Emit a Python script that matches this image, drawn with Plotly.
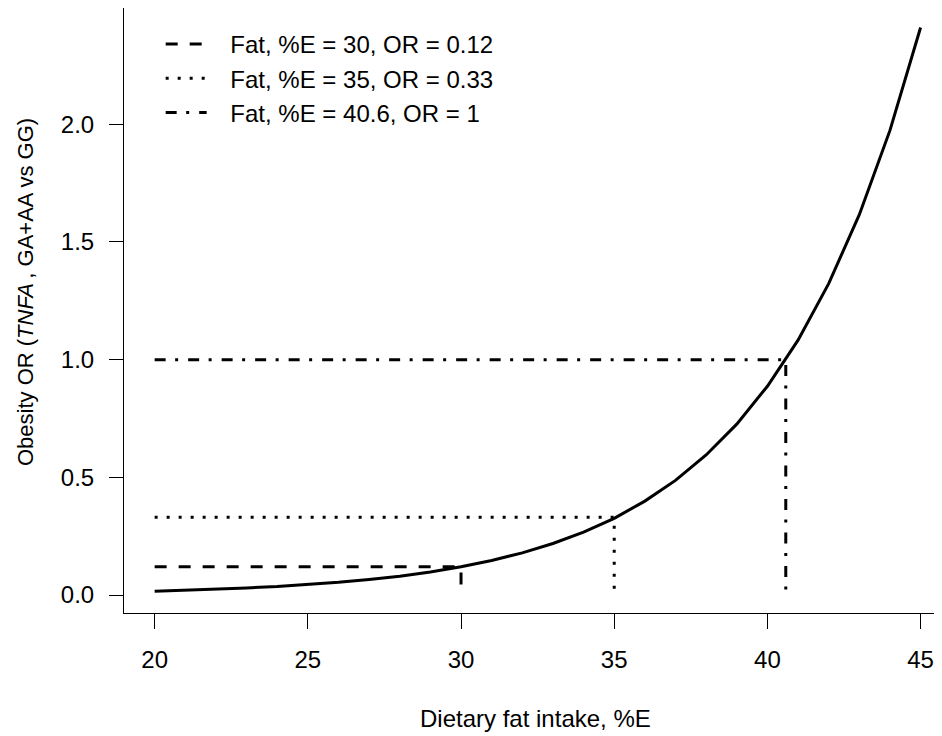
import plotly.graph_objects as go

# Curve: obesity OR vs dietary fat intake (%E)
fat_pct = [20, 21, 22, 23, 24, 25, 26, 27, 28, 29, 30, 31, 32,
           33, 34, 35, 36, 37, 38, 39, 40, 41, 42, 43, 44, 45]
odds_ratio = [0.016, 0.020, 0.024, 0.030, 0.036, 0.044, 0.054, 0.066, 0.080,
              0.098, 0.120, 0.147, 0.179, 0.219, 0.267, 0.326, 0.399, 0.487,
              0.595, 0.726, 0.887, 1.083, 1.323, 1.616, 1.974, 2.411]

# Reference markers
ref_fat = [30, 35, 40.6]
ref_or = [0.12, 0.33, 1.0]
ref_labels = ["Fat, %E = 30, OR = 0.12", "Fat, %E = 35, OR = 0.33",
              "Fat, %E = 40.6, OR = 1"]
ref_dash = ["12px,12px", "3px,9px", "11px,9.5px,3px,10px"]

x_ticks = [20, 25, 30, 35, 40, 45]
y_ticks = [0.0, 0.5, 1.0, 1.5, 2.0]

FONT = "Liberation Sans, Arial, Helvetica, sans-serif"
FS = 24
fig = go.Figure()

fig.add_trace(go.Scatter(x=fat_pct, y=odds_ratio, mode="lines",
                         line=dict(color="black", width=3),
                         showlegend=False, hoverinfo="skip"))

for fx, orv, lab, dsh in zip(ref_fat, ref_or, ref_labels, ref_dash):
    fig.add_trace(go.Scatter(
        x=[fat_pct[0], fx, fx], y=[orv, orv, 0.0], mode="lines",
        line=dict(color="black", width=3, dash=dsh),
        name="\u2002\u00a0" + lab, legendgroup=lab, hoverinfo="skip"))

fig.update_layout(
    width=942, height=736,
    margin=dict(l=116, r=0, t=0, b=131),
    paper_bgcolor="white", plot_bgcolor="white",
    font=dict(family=FONT, size=FS, color="black"),
    showlegend=True,
    legend=dict(x=0.0444, y=0.977, xanchor="left", yanchor="top",
                bgcolor="rgba(0,0,0,0)", borderwidth=0,
                font=dict(family=FONT, size=FS, color="black"),
                itemwidth=41, tracegroupgap=0, traceorder="normal"),
    xaxis=dict(range=[19, 45.96], tickvals=x_ticks, ticktext=[str(v) for v in x_ticks],
               showgrid=False, zeroline=False, showline=True, linecolor="black",
               linewidth=1, mirror=True, ticks="outside", ticklen=15,
               tickcolor="black", tickwidth=1, ticklabelstandoff=10),
    yaxis=dict(range=[-0.0764, 2.494], tickvals=y_ticks,
               ticktext=["%.1f" % v for v in y_ticks],
               showgrid=False, zeroline=False, showline=True, linecolor="black",
               linewidth=1, mirror=False, ticks="outside", ticklen=14,
               tickcolor="black", tickwidth=1, ticklabelstandoff=10),
    annotations=[
        dict(text="Obesity OR (<i>TNFA</i>\u2009, GA+AA vs GG)",
             xref="paper", yref="paper", x=-0.1186, y=0.5306,
             xanchor="center", yanchor="middle", textangle=-90,
             showarrow=False, font=dict(family=FONT, size=22)),
        dict(text="Dietary fat intake, %E",
             xref="paper", yref="paper", x=0.498, y=-0.1736,
             xanchor="center", yanchor="middle",
             showarrow=False, font=dict(family=FONT, size=FS)),
    ],
)

fig.write_html("out.html")
